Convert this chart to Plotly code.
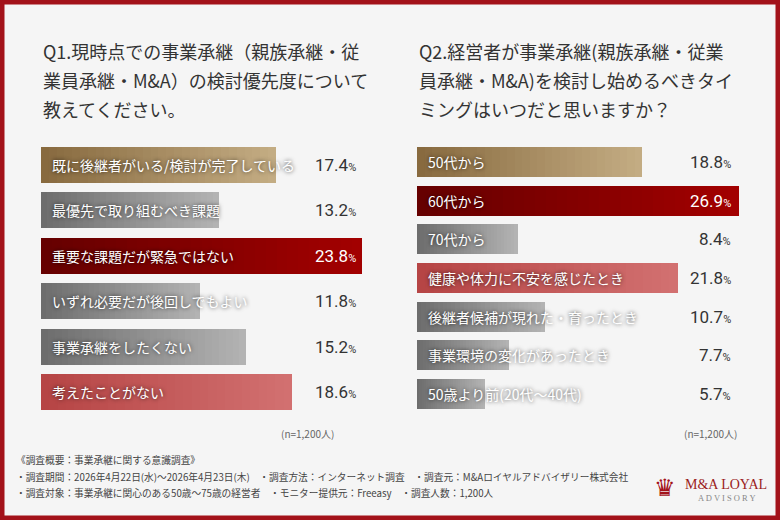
import plotly.graph_objects as go

# ---------------- data ----------------
q1_title = ["Q1.現時点での事業承継（親族承継・従", "業員承継・M&A）の検討優先度について", "教えてください。"]
q1_labels = ["既に後継者がいる/検討が完了している", "最優先で取り組むべき課題", "重要な課題だが緊急ではない",
             "いずれ必要だが後回しでもよい", "事業承継をしたくない", "考えたことがない"]
q1_values = [17.4, 13.2, 23.8, 11.8, 15.2, 18.6]
q1_kinds = ["gold", "gray", "red", "gray", "gray", "pink"]

q2_title = ["Q2.経営者が事業承継(親族承継・従業", "員承継・M&A)を検討し始めるべきタイ", "ミングはいつだと思いますか？"]
q2_labels = ["50代から", "60代から", "70代から", "健康や体力に不安を感じたとき",
             "後継者候補が現れた・育ったとき", "事業環境の変化があったとき", "50歳より前(20代～40代)"]
q2_values = [18.8, 26.9, 8.4, 21.8, 10.7, 7.7, 5.7]
q2_kinds = ["gold", "red", "gray", "pink", "gray", "gray", "gray"]

n_note = "(n=1,200人)"
footer_lines = [
    "《調査概要：事業承継に関する意識調査》",
    "・調査期間：2026年4月22日(水)～2026年4月23日(木)　・調査方法：インターネット調査　・調査元：M&Aロイヤルアドバイザリー株式会社",
    "・調査対象：事業承継に関心のある50歳～75歳の経営者　・モニター提供元：Freeasy　・調査人数：1,200人",
]

# ---------------- style ----------------
W, H = 780, 520
BG = "#f5f5f5"
FRAME = "#a3121a"
JP = "Noto Sans CJK JP"
NUM = "Liberation Sans Narrow, Roboto, Arial Narrow, sans-serif"
GRAD = {
    "gold": ("#87693e", "#c4ad84"),
    "gray": ("#6c6c6c", "#b4b4b4"),
    "red": ("#650000", "#a30000"),
    "pink": ("#b64444", "#d27171"),
}
NSEG = 30


def hex2rgb(h):
    h = h.lstrip("#")
    return tuple(int(h[i:i + 2], 16) for i in (0, 2, 4))


def mix(c0, c1, t):
    a, b = hex2rgb(c0), hex2rgb(c1)
    return "rgb(%d,%d,%d)" % tuple(round(a[i] + (b[i] - a[i]) * t) for i in range(3))


fig = go.Figure()


def add_panel(labels, values, kinds, xa, ya, width):
    for k in range(NSEG):
        t = (k + 0.5) / NSEG
        fig.add_trace(go.Bar(
            y=labels, x=[v / NSEG for v in values], orientation="h",
            marker=dict(color=[mix(*GRAD[c], t) for c in kinds], line=dict(width=0)),
            width=width, xaxis=xa, yaxis=ya, hoverinfo="skip", showlegend=False,
        ))


add_panel(q1_labels, q1_values, q1_kinds, "x", "y", 0.79)
add_panel(q2_labels, q2_values, q2_kinds, "x2", "y2", 0.775)

x1_dom = [41 / W, 365 / W]
x2_dom = [417 / W, 741 / W]
fig.update_layout(
    width=W, height=H, margin=dict(l=0, r=0, t=0, b=0),
    paper_bgcolor=BG, plot_bgcolor=BG, barmode="stack",
    xaxis=dict(domain=x1_dom, range=[0, 324 / 13.5], visible=False, fixedrange=True),
    yaxis=dict(domain=[(H - 414.7) / H, (H - 142.3) / H], categoryorder="array",
               categoryarray=q1_labels, autorange="reversed", visible=False),
    xaxis2=dict(domain=x2_dom, range=[0, 324 / 11.97], visible=False, anchor="y2"),
    yaxis2=dict(domain=[(H - 413.35) / H, (H - 142.65) / H], categoryorder="array",
                categoryarray=q2_labels, autorange="reversed", visible=False, anchor="x2"),
    shapes=[dict(type="rect", xref="paper", yref="paper", x0=0, x1=1, y0=0, y1=1,
                 line=dict(color=FRAME, width=9), fillcolor="rgba(0,0,0,0)")],
)

ann = []
shadow = "0px 0px 4px rgba(0,0,0,0.75)"


def panel_text(labels, values, kinds, xa, ya, x_right_px):
    for lab, v, c in zip(labels, values, kinds):
        ann.append(dict(x=0, y=lab, xref=xa, yref=ya, text=lab, showarrow=False,
                        xanchor="left", xshift=9, yanchor="middle",
                        font=dict(family=JP, size=14, color="white", shadow=shadow)))
        inside = c == "red"
        ann.append(dict(x=x_right_px / W, y=lab, xref="paper", yref=ya,
                        text="%.1f<span style='font-size:11px'>%%</span>" % v,
                        showarrow=False, xanchor="right", yanchor="middle",
                        font=dict(family=NUM, size=17, color="white" if inside else "#333333")))


panel_text(q1_labels, q1_values, q1_kinds, "x", "y", 358)
panel_text(q2_labels, q2_values, q2_kinds, "x2", "y2", 733)

for x, lines in [(41, q1_title), (417, q2_title)]:
    for i, txt in enumerate(lines):
        ann.append(dict(x=x / W, y=(H - (51 + 28.8 * i)) / H, xref="paper", yref="paper",
                        text=txt.replace("&", "&amp;"), showarrow=False, xanchor="left",
                        yanchor="middle", align="left",
                        font=dict(family=JP, size=18, color="#333333")))

for x in (336, 739):
    ann.append(dict(x=x / W, y=(H - 433) / H, xref="paper", yref="paper", text=n_note,
                    showarrow=False, xanchor="right", yanchor="middle",
                    font=dict(family=JP, size=10, color="#666666")))

for i, line in enumerate(footer_lines):
    ann.append(dict(x=14 / W, y=(H - (460 + 16.5 * i)) / H, xref="paper", yref="paper",
                    text=line.replace("&", "&amp;"), showarrow=False, xanchor="left",
                    yanchor="middle", font=dict(family=JP, size=9.7, color="#444444")))

# logo
ann.append(dict(x=726 / W, y=(H - 484) / H, xref="paper", yref="paper", text="M&amp;A LOYAL",
                showarrow=False, xanchor="center", yanchor="middle",
                font=dict(family="Liberation Serif", size=14, color="#9b1c1c")))
ann.append(dict(x=727 / W, y=(H - 498) / H, xref="paper", yref="paper", text="A D V I S O R Y",
                showarrow=False, xanchor="center", yanchor="middle",
                font=dict(family="Liberation Serif", size=8.5, color="#888888")))
ann.append(dict(x=665 / W, y=(H - 488) / H, xref="paper", yref="paper", text="♛",
                showarrow=False, xanchor="center", yanchor="middle",
                font=dict(family="DejaVu Sans", size=24, color="#a3121a")))

fig.update_layout(annotations=ann)
fig.write_html("out.html")
